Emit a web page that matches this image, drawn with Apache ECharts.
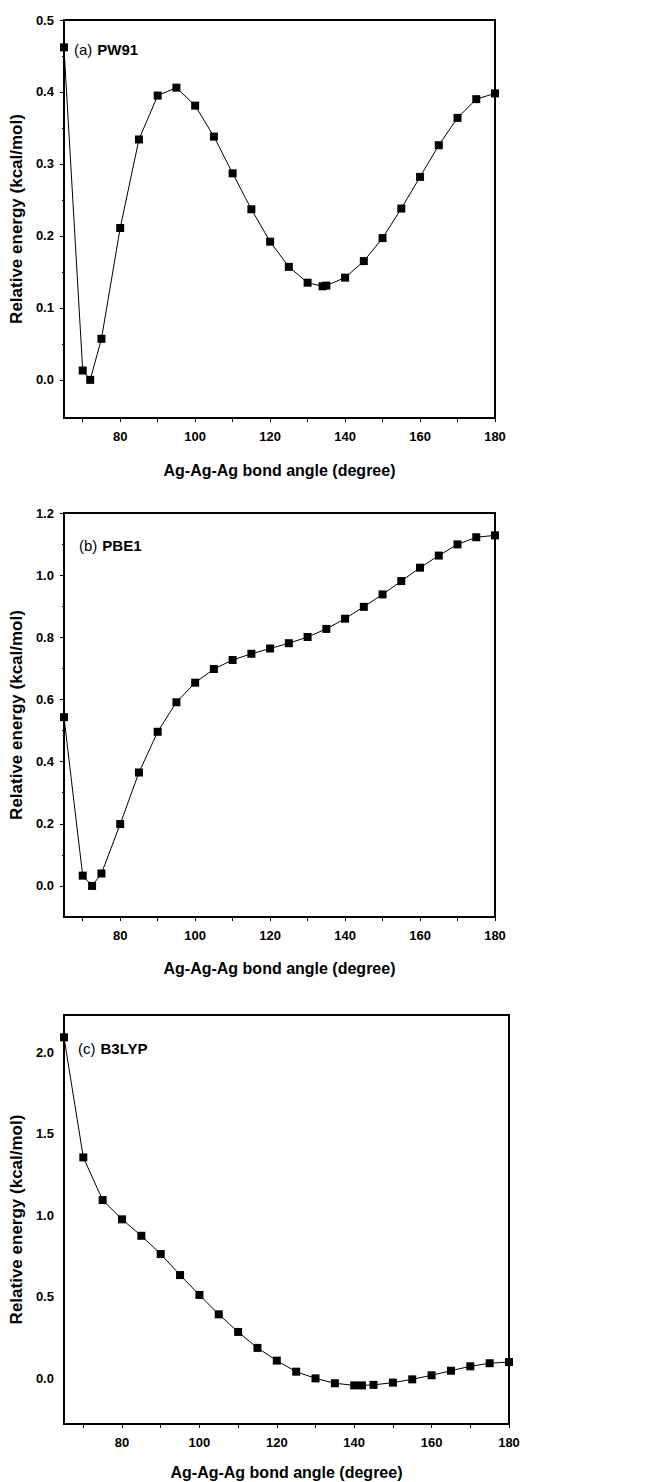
<!DOCTYPE html>
<html>
<head>
<meta charset="utf-8">
<script src="https://cdn.jsdelivr.net/npm/echarts@6/dist/echarts.min.js"></script>
<style>
  html, body { margin: 0; padding: 0; background: #fff; }
  #graph { width: 652px; height: 1482px; }
</style>
</head>
<body>
<div id="graph"></div>
<script>
// bond angle (degree) and relative energy (kcal/mol) for each functional
var anglesA = [65, 70, 72, 75, 80, 85, 90, 95, 100, 105, 110, 115, 120, 125, 130, 134, 135, 140, 145, 150, 155, 160, 165, 170, 175, 180];
var energyA = [0.462, 0.013, 0.0, 0.057, 0.211, 0.334, 0.395, 0.406, 0.381, 0.338, 0.287, 0.237, 0.192, 0.157, 0.135, 0.130, 0.131, 0.142, 0.165, 0.197, 0.238, 0.282, 0.326, 0.364, 0.390, 0.398];

var anglesB = [65, 70, 72.5, 75, 80, 85, 90, 95, 100, 105, 110, 115, 120, 125, 130, 135, 140, 145, 150, 155, 160, 165, 170, 175, 180];
var energyB = [0.543, 0.033, 0.0, 0.040, 0.199, 0.365, 0.496, 0.591, 0.654, 0.698, 0.727, 0.747, 0.764, 0.781, 0.801, 0.827, 0.860, 0.898, 0.938, 0.981, 1.024, 1.063, 1.099, 1.122, 1.128];

var anglesC = [65, 70, 75, 80, 85, 90, 95, 100, 105, 110, 115, 120, 125, 130, 135, 140, 142, 145, 150, 155, 160, 165, 170, 175, 180];
var energyC = [2.093, 1.356, 1.094, 0.976, 0.875, 0.763, 0.634, 0.512, 0.393, 0.285, 0.187, 0.109, 0.041, 0.0, -0.03, -0.043, -0.043, -0.04, -0.026, -0.006, 0.019, 0.047, 0.074, 0.093, 0.10];

var xTicks = [70, 80, 90, 100, 110, 120, 130, 140, 150, 160, 170, 180];
var xLabels = [80, 100, 120, 140, 160, 180];
var yLabelsA = [0, 0.1, 0.2, 0.3, 0.4, 0.5];
var yMinorA = [0.05, 0.15, 0.25, 0.35, 0.45];
var yLabelsB = [0, 0.2, 0.4, 0.6, 0.8, 1.0, 1.2];
var yMinorB = [0.1, 0.3, 0.5, 0.7, 0.9, 1.1];
var yLabelsC = [0, 0.5, 1.0, 1.5, 2.0];

var panelNames = ['PW91', 'PBE1', 'B3LYP'];
var xName = 'Ag-Ag-Ag bond angle (degree)';
var yName = 'Relative energy (kcal/mol)';

var font = 'Liberation Sans, Arial, sans-serif';

function pairs(xs, ys) {
  return xs.map(function (x, i) { return [x, ys[i]]; });
}

function xAxisFor(g, gap) {
  return {
    type: 'value', gridIndex: g, min: 65, max: 180,
    name: xName, nameLocation: 'middle', nameGap: gap,
    nameTextStyle: { fontFamily: font, fontWeight: 'bold', fontSize: 16, color: '#000' },
    axisLine: { onZero: false, lineStyle: { color: '#000', width: 2 } },
    axisTick: { show: true, length: 4, lineStyle: { color: '#000', width: 1 }, customValues: xTicks },
    axisLabel: { customValues: xLabels, margin: 12, fontFamily: font, fontWeight: 'bold', fontSize: 13, color: '#000' },
    splitLine: { show: false }
  };
}

function yAxisFor(g, min, max, labels, gap, showTicks) {
  return {
    type: 'value', gridIndex: g, position: 'left', min: min, max: max,
    name: yName, nameLocation: 'middle', nameGap: gap, nameRotate: 90,
    nameTextStyle: { fontFamily: font, fontWeight: 'bold', fontSize: 17, color: '#000' },
    axisLine: { show: true, onZero: false, lineStyle: { color: '#000', width: 2 } },
    axisTick: { show: showTicks, length: 4, lineStyle: { color: '#000', width: 1 }, customValues: labels },
    axisLabel: {
      customValues: labels, margin: 10, fontFamily: font, fontWeight: 'bold', fontSize: 13, color: '#000',
      formatter: function (v) { return v.toFixed(1); }
    },
    splitLine: { show: false }
  };
}

// short unlabeled ticks between the main ones
function minorAxisFor(g, min, max, ticks) {
  return {
    type: 'value', gridIndex: g, position: 'left', min: min, max: max,
    axisLine: { show: false, onZero: false },
    axisTick: { show: true, length: 2, lineStyle: { color: '#000', width: 1 }, customValues: ticks },
    axisLabel: { show: false },
    splitLine: { show: false }
  };
}

function seriesFor(xi, yi, data) {
  return {
    type: 'line', xAxisIndex: xi, yAxisIndex: yi, data: data,
    symbol: 'rect', symbolSize: 8, showSymbol: true,
    itemStyle: { color: '#000' },
    lineStyle: { color: '#000', width: 1 },
    animation: false
  };
}

function label(letter, name, left, top) {
  return {
    left: left, top: top, padding: 0,
    text: '{n|(' + letter + ')} {b|' + name + '}',
    textStyle: {
      rich: {
        n: { fontFamily: font, fontSize: 15, fontWeight: 'normal', color: '#000' },
        b: { fontFamily: font, fontSize: 15, fontWeight: 'bold', color: '#000' }
      }
    }
  };
}

var myChart = echarts.init(document.getElementById('graph'), null, { renderer: 'svg' });

var gridStyle = { show: true, borderColor: '#000', borderWidth: 2, backgroundColor: 'transparent' };

var option = {
  backgroundColor: '#fff',
  animation: false,
  title: [
    label('a', panelNames[0], 74, 40),
    label('b', panelNames[1], 79, 536),
    label('c', panelNames[2], 78, 1039)
  ],
  grid: [
    Object.assign({ left: 62, top: 20, width: 433, height: 398 }, gridStyle),
    Object.assign({ left: 62, top: 513, width: 433, height: 404 }, gridStyle),
    Object.assign({ left: 60, top: 1015, width: 449, height: 409 }, gridStyle)
  ],
  xAxis: [
    xAxisFor(0, 44),
    xAxisFor(1, 43),
    xAxisFor(2, 40)
  ],
  yAxis: [
    yAxisFor(0, -0.053, 0.5, yLabelsA, 35, true),
    minorAxisFor(0, -0.053, 0.5, yMinorA),
    yAxisFor(1, -0.1, 1.2, yLabelsB, 35, true),
    minorAxisFor(1, -0.1, 1.2, yMinorB),
    yAxisFor(2, -0.28, 2.23, yLabelsC, 33, false)
  ],
  series: [
    seriesFor(0, 0, pairs(anglesA, energyA)),
    seriesFor(1, 2, pairs(anglesB, energyB)),
    seriesFor(2, 4, pairs(anglesC, energyC))
  ]
};

if (option && typeof option === "object") {
  myChart.setOption(option, true);
}
</script>
</body>
</html>
